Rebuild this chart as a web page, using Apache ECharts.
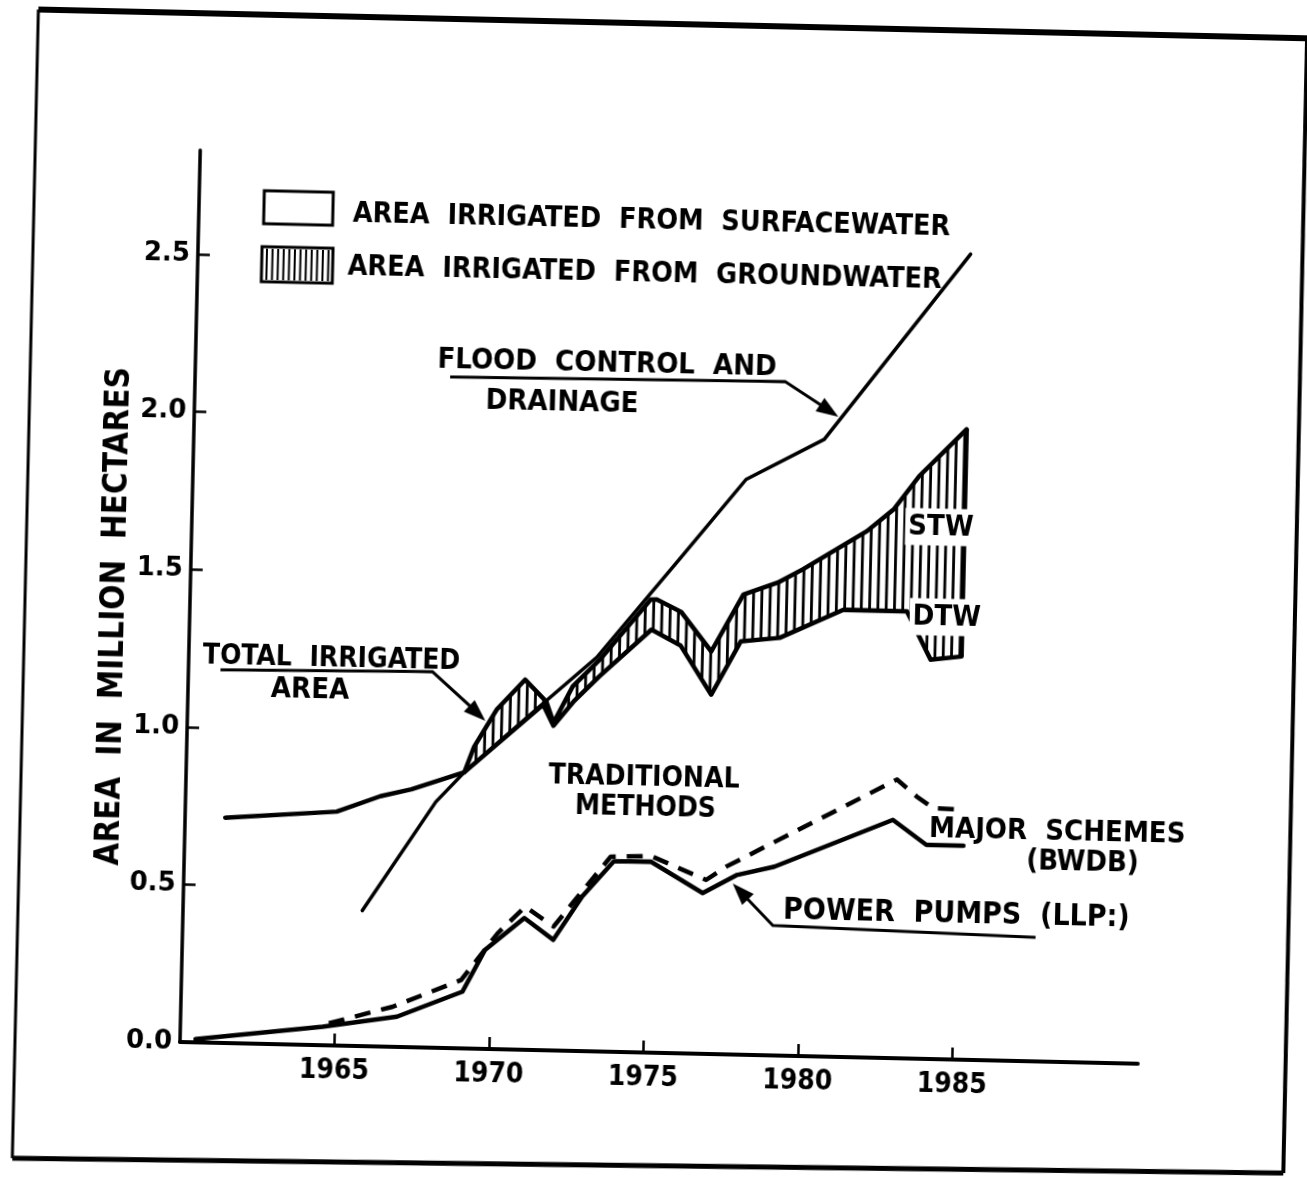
<!DOCTYPE html>
<html>
<head>
<meta charset="utf-8">
<script src="https://cdn.jsdelivr.net/npm/echarts@6/dist/echarts.min.js"></script>
<style>
  html, body { margin: 0; padding: 0; background: #fff; }
  #page { position: relative; width: 1307px; height: 1181px; overflow: hidden; background: #fff; }
  /* the drawing sits slightly skewed on the sheet */
  #chart { position: absolute; left: -40px; top: -40px; width: 1400px; height: 1280px;
           transform: rotate(1.3deg); transform-origin: 220px 1082px; }
</style>
</head>
<body>
<div id="page"><div id="chart"></div></div>
<script>
// ---- data: [year, million hectares] ----
const xTickYears = [1965, 1970, 1975, 1980, 1985];
const yTickValues = [0, 0.5, 1.0, 1.5, 2.0, 2.5];

const floodControl = [[1965.8, 0.43], [1968.1, 0.78], [1969.0, 0.876], [1971.5, 1.10], [1973.2, 1.25],
  [1975.8, 1.567], [1977.9, 1.825], [1980.4, 1.958], [1985.0, 2.556]];

// total irrigated area (traditional methods before 1969, then top of groundwater band)
const totalIrrigated = [[1961.3, 0.715], [1964.9, 0.742], [1966.3, 0.794], [1967.3, 0.818], [1969.0, 0.876],
  [1969.3, 0.958], [1970.0, 1.077], [1970.9, 1.174], [1971.6, 1.106], [1971.85, 1.04], [1972.45, 1.157],
  [1973.3, 1.243], [1974.9, 1.437], [1975.1, 1.438], [1975.9, 1.40], [1976.9, 1.277], [1977.9, 1.46],
  [1979.0, 1.50], [1979.8, 1.544], [1981.85, 1.67], [1982.7, 1.741], [1983.5, 1.848], [1985.0, 2.0]];

// area irrigated from surface water (bottom of groundwater band)
const surfaceWater = [[1969.0, 0.876], [1971.5, 1.096], [1971.85, 1.03], [1972.5, 1.11], [1973.3, 1.19],
  [1974.95, 1.342], [1975.9, 1.294], [1976.93, 1.14], [1977.85, 1.311], [1979.1, 1.325],
  [1981.15, 1.419], [1983.2, 1.418], [1984.0, 1.267], [1985.0, 1.279]];

// power pumps (LLP)
const powerPumps = [[1960.5, 0.01], [1964.6, 0.059], [1967.0, 0.096], [1969.1, 0.18], [1969.8, 0.314],
  [1971.05, 0.418], [1972.0, 0.351], [1972.9, 0.49], [1973.9, 0.604], [1975.1, 0.606], [1976.8, 0.51],
  [1977.9, 0.57], [1979.1, 0.599], [1982.9, 0.756], [1984.0, 0.679], [1985.2, 0.679]];

// power pumps plus major schemes (BWDB)
const majorSchemes = [[1964.8, 0.07], [1966.85, 0.127], [1969.05, 0.217], [1970.2, 0.368], [1971.07, 0.454],
  [1972.0, 0.393], [1972.6, 0.469], [1973.8, 0.619], [1975.1, 0.624], [1976.9, 0.552], [1977.55, 0.596],
  [1983.0, 0.884], [1983.65, 0.832], [1984.2, 0.796], [1985.1, 0.793]];

// ---- drawing ----
const INK = '#000';
const FONT = 'DejaVu Sans Condensed';
const TXT = 29;
const chart = echarts.init(document.getElementById('chart'), null, { renderer: 'canvas' });

function interpY(pts, x) {
  for (let i = 1; i < pts.length; i++) {
    const a = pts[i - 1], b = pts[i];
    if (x <= b[0]) {
      const t = (x - a[0]) / ((b[0] - a[0]) || 1);
      return a[1] + t * (b[1] - a[1]);
    }
  }
  return pts[pts.length - 1][1];
}

// vertical hatching between surface-water area and total irrigated area
function renderGroundwater(params, api) {
  const bandStart = surfaceWater[0][0];
  const top = totalIrrigated.filter(p => p[0] >= bandStart).map(p => api.coord(p));
  const bot = surfaceWater.map(p => api.coord(p));
  const children = [];
  const x0 = top[0][0], x1 = top[top.length - 1][0];
  for (let x = x0 + 3; x < x1 - 1; x += 8.3) {
    const yt = interpY(top, x), yb = interpY(bot, x);
    if (yb - yt > 3) {
      children.push({ type: 'line', shape: { x1: x, y1: yt, x2: x, y2: yb },
        style: { stroke: INK, lineWidth: 2.8 } });
    }
  }
  const tE = top[top.length - 1], bE = bot[bot.length - 1];
  children.push({ type: 'line', shape: { x1: tE[0], y1: tE[1], x2: bE[0], y2: bE[1] },
    style: { stroke: INK, lineWidth: 4.5 } });
  return { type: 'group', children };
}

function text(str, x, y, size, align, extra) {
  return Object.assign({ type: 'text', x, y, z: 100,
    style: Object.assign({ text: str, fill: INK, fontFamily: FONT, fontWeight: 'bold', fontSize: size,
      align: align || 'left', verticalAlign: 'middle' }, (extra && extra.style) || {}) },
    extra ? { rotation: extra.rotation || 0 } : {});
}
function seg(points, w) {
  return { type: 'polyline', z: 100, shape: { points }, style: { stroke: INK, lineWidth: w || 3, fill: null } };
}
function arrowHead(from, tip, len, half) {
  const dx = tip[0] - from[0], dy = tip[1] - from[1];
  const L = Math.hypot(dx, dy), ux = dx / L, uy = dy / L;
  const bx = tip[0] - ux * len, by = tip[1] - uy * len;
  return { type: 'polygon', z: 100,
    shape: { points: [[tip[0], tip[1]], [bx - uy * half, by + ux * half], [bx + uy * half, by - ux * half]] },
    style: { fill: INK } };
}

// legend swatch hatching
const swatchHatch = [];
for (let x = 289; x < 354; x += 5.6) {
  swatchHatch.push({ type: 'line', z: 100, shape: { x1: x, y1: 287, x2: x, y2: 318 },
    style: { stroke: INK, lineWidth: 2 } });
}

const graphics = [
  // sheet frame
  seg([[55, 53], [1324, 53]], 6),
  seg([[1324, 53], [1326, 1188]], 4),
  seg([[1326, 1188], [55, 1202]], 5),
  seg([[55, 1202], [55, 53]], 3),
  // legend
  { type: 'rect', z: 100, shape: { x: 285, y: 229, width: 69, height: 33 }, style: { fill: '#fff', stroke: INK, lineWidth: 3 } },
  { type: 'rect', z: 100, shape: { x: 284, y: 285, width: 71, height: 35 }, style: { fill: '#fff', stroke: INK, lineWidth: 3 } },
  ...swatchHatch,
  text('AREA  IRRIGATED  FROM  SURFACEWATER', 374, 251, 28.5),
  text('AREA  IRRIGATED  FROM  GROUNDWATER', 370, 304, 28.5),
  // flood control annotation
  text('FLOOD  CONTROL  AND', 462, 394, TXT),
  text('DRAINAGE', 511, 434, TXT),
  seg([[475, 411], [810, 408], [858, 438]], 3),
  arrowHead([810, 408], [864, 442], 22, 8),
  // total irrigated annotation
  text('TOTAL  IRRIGATED', 234, 696, 28),
  text('AREA', 342, 727, TXT, 'center'),
  seg([[252, 709], [464, 706], [512, 748]], 3),
  arrowHead([464, 706], [518, 754], 22, 8),
  // traditional methods
  text('TRADITIONAL', 678, 808, 28, 'center'),
  text('METHODS', 680, 838, 28, 'center'),
  // groundwater components
  text('STW', 969, 550, TXT, 'center', { style: { backgroundColor: '#fff', padding: [4, 3] } }),
  text('DTW', 977, 640, TXT, 'center', { style: { backgroundColor: '#fff', padding: [4, 3] } }),
  // major schemes / power pumps
  text('MAJOR  SCHEMES', 964, 852, 29),
  text('(BWDB)', 1062, 882, TXT),
  text('POWER  PUMPS  (LLP:)', 820, 937, 30),
  seg([[1073, 958], [810, 952], [774, 916]], 3),
  arrowHead([810, 952], [769, 911], 22, 8),
  // y axis title
  text('AREA  IN  MILLION  HECTARES', 145, 658, 33, 'center', { rotation: Math.PI / 2 })
];

const lineStyle = (w, type) => ({ color: INK, width: w, type: type || 'solid', cap: 'round', join: 'round' });

chart.setOption({
  backgroundColor: '#fff',
  animation: false,
  grid: { left: 220, top: 190, width: 958, height: 892 },
  xAxis: {
    type: 'value', min: 1960, max: 1991,
    axisLine: { lineStyle: { color: INK, width: 4 } },
    axisTick: { inside: true, length: 12, lineStyle: { color: INK, width: 2.5 }, customValues: xTickYears },
    axisLabel: { customValues: xTickYears, margin: 12, color: INK, fontFamily: FONT, fontWeight: 'bold',
      fontSize: 28, formatter: v => String(v) },
    splitLine: { show: false }
  },
  yAxis: {
    type: 'value', min: 0, max: 2.83,
    axisLine: { show: true, lineStyle: { color: INK, width: 3.5 } },
    axisTick: { show: true, inside: true, length: 12, lineStyle: { color: INK, width: 2.5 },
      customValues: yTickValues.slice(1) },
    axisLabel: { customValues: yTickValues, margin: 8, color: INK, fontFamily: 'DejaVu Sans',
      fontWeight: 'bold', fontSize: 26, formatter: v => v.toFixed(1) },
    splitLine: { show: false }
  },
  graphic: graphics,
  series: [
    { type: 'custom', name: 'Area irrigated from groundwater', renderItem: renderGroundwater,
      data: [[1977, 1.4]], clip: false, z: 3, silent: true },
    { type: 'line', name: 'Total irrigated area', data: totalIrrigated, symbol: 'none', lineStyle: lineStyle(4.5), z: 4 },
    { type: 'line', name: 'Area irrigated from surfacewater', data: surfaceWater, symbol: 'none', lineStyle: lineStyle(4.5), z: 4 },
    { type: 'line', name: 'Flood control and drainage', data: floodControl, symbol: 'none', lineStyle: lineStyle(3.5), z: 4 },
    { type: 'line', name: 'Power pumps (LLP)', data: powerPumps, symbol: 'none', lineStyle: lineStyle(4.5), z: 4 },
    { type: 'line', name: 'Major schemes (BWDB)', data: majorSchemes, symbol: 'none',
      lineStyle: Object.assign(lineStyle(4.5, [16, 11]), { cap: 'butt' }), z: 4 }
  ]
});
</script>
</body>
</html>
